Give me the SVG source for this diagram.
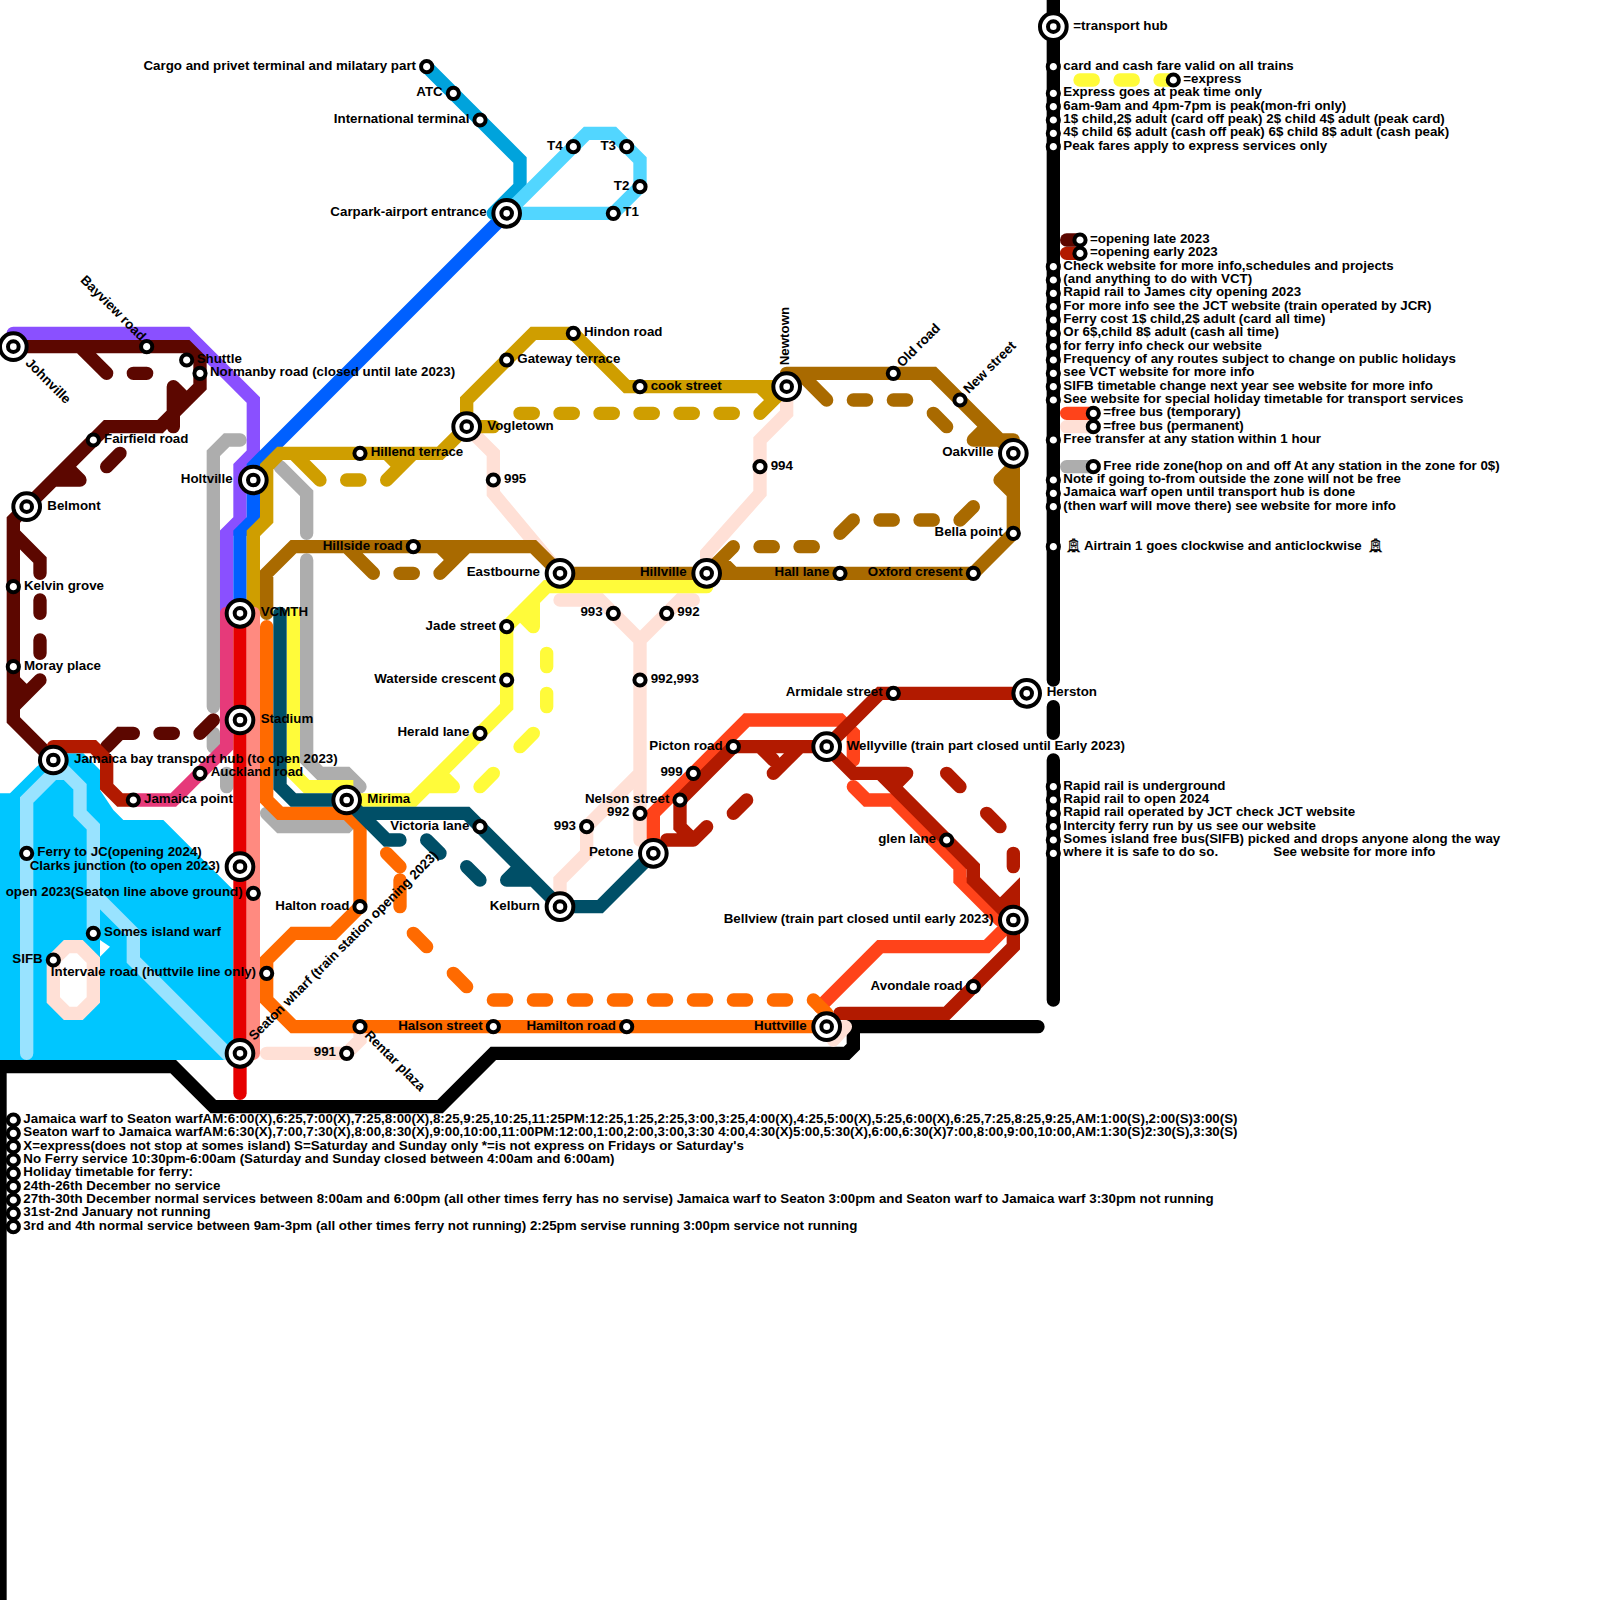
<svg xmlns="http://www.w3.org/2000/svg" width="1600" height="1600" viewBox="0 0 1600 1600">
<style>
text{font-family:"Liberation Sans",Arial,sans-serif;font-size:1px;font-weight:bold;fill:#000}
.tram{font-family:"DejaVu Sans",sans-serif;font-weight:normal;stroke:#000;stroke-width:.02px}
.e{text-anchor:end}
path.l{fill:none;stroke-width:1;stroke-linecap:round;stroke-linejoin:miter}
.ring{fill:#fff;stroke:#000;stroke-width:.3}
.grey{stroke:#adadad}.purple{stroke:#8a50ff}.blue{stroke:#0060ff}.gold{stroke:#cf9e00}.brown{stroke:#a96a00}
.dark{stroke:#5c0700}.dred{stroke:#b21a00}.bus{stroke:#ff431a}.peach{stroke:#ffe0d6}.teal{stroke:#004f67}
.yellow{stroke:#fffb3a}.orange{stroke:#ff6a00}.red{stroke:#e60000}.salmon{stroke:#ff8a80}.pink{stroke:#e63a7a}
.black{stroke:#000}.ferry{stroke:#99e3ff}.air{stroke:#00a3dc}.cyan{stroke:#52d6ff}
</style>
<defs>
<g id="h"><circle class="ring" r="1"/><circle class="ring" r=".4"/></g>
<circle id="s" class="ring" r=".42"/>
</defs>
<g transform="scale(13.33333)">
<g id="water">
<path fill="#00c6ff" d="M0,59.5H.75L2.75,57.5L4,56.5H6.25L7.5,57.75V59.25L8.5,60.75L9.25,61.5H12.25L17.5,66.75V79.5H0Z"/>
<path class="l ferry" d="M2,79V60L4,58H5L6,59V61L7,62V70M4,57L6,59M7,67L10,70V72L17,79H18"/>
<path class="l peach" style="fill:#fff" d="M4,72L5,71H6L7,72V75L6,76H5L4,75Z"/>
<path fill="#fff" d="M7.5,70.5L8.25,71L7.5,71.75Z"/>
</g>
<g id="connectors">
<path class="l black" d="M79,0V51M79,53V55M79,57V75M77.85,77H64V78.5L63.5,79H37L33,83H16L13,80H0V120"/>
<path class="l peach" d="M35,32L37,34V37L42,43M59,29V31L57,33V37L53,41.5V43M42,45H45L48,48V63M52,45H51L48,48M48,58L44,62V64L42,66V68M20,79H26L27,78V77M63.4,77L62.5,78"/>
<path class="l grey" d="M18,33H17L16,34V53M16,55V56M17,58V59M21,35L23,37V40M23,42V57L24,58H26L27,59M20,61L21,62H26L27,61"/>
<path class="l purple" d="M1,25H14L19,30V34L18,35V39L17,40V46"/>
<path class="l blue" d="M38,16L19,35V39L18,40V46"/>
<path class="l air" d="M32,5L39,12V14L37,16"/>
<path class="l cyan" d="M38,16L44,10H46L48,12V14L46,16H38"/>
<path class="l dark" d="M1,26H14L15,27V29L12,32H8L2,38L1,39V54L4,57M6,26L8,28M10,28H11M13,29V32M14,30L13,29M9,34L8,35M5,35L6,36M6,36H4M1,40L3,42V43M3,45V46M3,48V49M3,51L1,53M1,51L2,52M8,56L9,55H10M12,55H13M15,55L16,54"/>
<path class="l gold" d="M19,46V40L20,39V35L21,34H33L35,32V30L40,25H43L47,29H59M35,32H37M39,31H40M42,31H43M45,31H46M48,31H49M51,31H52M54,31H55M57,31L59,29M57,29L58,30M22,34L24,36M26,36H27M29,36L31,34M29,34L30,35"/>
<path class="l brown" d="M20,46V43L22,41H40L42,43H73L76,40V34L70,28H59M26,41L28,43M30,43H31M33,43L35,41M33,41L34,42M60,28L62,30M64,30H65M67,30H68M70,31L71,32M74,32L73,33M73,33H76M76,35L75,36M75,36L76,37M73,38L72,39M69,39H70M66,39H67M64,39L63,40M60,41H61M57,41H58M55,41L53,43M54,42L55,43"/>
<path class="l yellow" d="M53,44H41L38,47V53L31,60H26M40,45V47M39,46L40,47M41,49V50M41,52V53M40,55L39,56M37,58L36,59M33,58L34,59M34,59H32M22,46V58L23,59H26L26,60M81,6H82M84,6H85M87,6H88"/>
<path class="l orange" d="M20,47V60L21,61H26L27,62V68L25,70H22L20,72V75L22,77H62"/>
<path class="l teal" d="M21,46V59L22,60H26M27,61H35L42,68H45L49,64M26,60L29,63H30M32,63L33,64M35,65L36,66M39,65L38,66M38,66H40"/>
<path class="l pink" d="M17,46V56L13,60H10"/>
<path class="l red" d="M18,46V82"/>
<path class="l salmon" d="M19,46V79"/>
<path class="l bus" d="M61.5,75.5L66,71H74L76,69M64,59L65,60H67L72,65V66L75,69M49,63V61L56,54H63L64,55V57M80,31H82"/>
<path class="l dred" d="M77,52H66L62,56H55L51,60V62L52,63M52,63H50M53,62L52,63M56,60L55,61M58,58L60,56M57,56L58,57M62,56L64,58H68M68,58L67,59M66,58L73,65V66L76,69M75,68L76,67V71L71,76H63M71,58L72,59M74,61L75,62M76,64V65M4,56H7L8,57V59L9,60H10M80,19H81"/>
<path class="l dark" d="M80,18H81"/>
<path class="l peach" d="M80,32H82"/>
<path class="l grey" d="M80,35H82"/>
<path class="l orange" d="M29,64L30,65M30,66V68M31,70L32,71M34,73L35,74M37,75H38M40,75H41M43,75H44M46,75H47M49,75H50M52,75H53M55,75H56M58,75H59M61,75L62,76"/>
</g>
<g id="n-johnville" transform="translate(1,26)"><use href="#h"/><text transform="rotate(45)" x="1.5" y=".3">Johnville</text></g>
<g id="n-bayview" transform="translate(11,26)"><use href="#s"/><text class="e" transform="rotate(45)" x="-.6" y=".05">Bayview road</text></g>
<g id="n-shuttle" transform="translate(14,27)"><use href="#s"/><text x=".75" y=".22">Shuttle</text></g>
<g id="n-normanby" transform="translate(15,28)"><use href="#s"/><text x=".75" y=".22">Normanby road (closed until late 2023)</text></g>
<g id="n-fairfield" transform="translate(7,33)"><use href="#s"/><text x=".8" y=".22">Fairfield road</text></g>
<g id="n-belmont" transform="translate(2,38)"><use href="#h"/><text x="1.55" y=".22">Belmont</text></g>
<g id="n-kelvin" transform="translate(1,44)"><use href="#s"/><text x=".8" y=".22">Kelvin grove</text></g>
<g id="n-moray" transform="translate(1,50)"><use href="#s"/><text x=".8" y=".22">Moray place</text></g>
<g id="n-holtville" transform="translate(19,36)"><use href="#h"/><text class="e" x="-1.55" y=".22">Holtville</text></g>
<g id="n-vcmth" transform="translate(18,46)"><use href="#h"/><text x="1.55" y=".22">VCMTH</text></g>
<g id="n-stadium" transform="translate(18,54)"><use href="#h"/><text x="1.55" y=".22">Stadium</text></g>
<g id="n-jamaicabay" transform="translate(4,57)"><use href="#h"/><text x="1.55" y=".22">Jamaica bay transport hub (to open 2023)</text></g>
<g id="n-auckland" transform="translate(15,58)"><use href="#s"/><text x=".8" y=".22">Auckland road</text></g>
<g id="n-jamaicapoint" transform="translate(10,60)"><use href="#s"/><text x=".8" y=".22">Jamaica point</text></g>
<g id="n-mirima" transform="translate(26,60)"><use href="#h"/><text x="1.55" y=".22">Mirima</text></g>
<g id="n-ferryjc" transform="translate(2,64)"><use href="#s"/><text x=".8" y=".22">Ferry to JC(opening 2024)</text></g>
<g id="n-clarks" transform="translate(18,65)"><use href="#h"/><text class="e" x="-1.5" y=".22">Clarks junction (to open 2023)</text></g>
<g id="n-open2023" transform="translate(19,67)"><use href="#s"/><text class="e" x="-.8" y=".22">open 2023(Seaton line above ground)</text></g>
<g id="n-somes" transform="translate(7,70)"><use href="#s"/><text x=".8" y=".22">Somes island warf</text></g>
<g id="n-sifb" transform="translate(4,72)"><use href="#s"/><text class="e" x="-.8" y=".22">SIFB</text></g>
<g id="n-intervale" transform="translate(20,73)"><use href="#s"/><text class="e" x="-.8" y=".22">Intervale road (huttvile line only)</text></g>
<g id="n-seaton" transform="translate(18,79)"><use href="#h"/><text transform="rotate(-45)" x="1.4" y=".1">Seaton wharf (train station opening 2023)</text></g>
<g id="n-rentar" transform="translate(27,77)"><use href="#s"/><text transform="rotate(45)" x=".7" y=".28">Rentar plaza</text></g>
<g id="n-991" transform="translate(26,79)"><use href="#s"/><text class="e" x="-.8" y=".22">991</text></g>
<g id="n-halton" transform="translate(27,68)"><use href="#s"/><text class="e" x="-.8" y=".22">Halton road</text></g>
<g id="n-halson" transform="translate(37,77)"><use href="#s"/><text class="e" x="-.8" y=".22">Halson street</text></g>
<g id="n-hamilton" transform="translate(47,77)"><use href="#s"/><text class="e" x="-.8" y=".22">Hamilton road</text></g>
<g id="n-huttville" transform="translate(62,77)"><use href="#h"/><text class="e" x="-1.5" y=".22">Huttville</text></g>
<g id="n-cargo" transform="translate(32,5)"><use href="#s"/><text class="e" x="-.8" y=".22">Cargo and privet terminal and milatary part</text></g>
<g id="n-atc" transform="translate(34,7)"><use href="#s"/><text class="e" x="-.8" y=".22">ATC</text></g>
<g id="n-intl" transform="translate(36,9)"><use href="#s"/><text class="e" x="-.8" y=".22">International terminal</text></g>
<g id="n-carpark" transform="translate(38,16)"><use href="#h"/><text class="e" x="-1.5" y=".22">Carpark-airport entrance</text></g>
<g id="n-t4" transform="translate(43,11)"><use href="#s"/><text class="e" x="-.8" y=".22">T4</text></g>
<g id="n-t3" transform="translate(47,11)"><use href="#s"/><text class="e" x="-.8" y=".22">T3</text></g>
<g id="n-t2" transform="translate(48,14)"><use href="#s"/><text class="e" x="-.8" y=".22">T2</text></g>
<g id="n-t1" transform="translate(46,16)"><use href="#s"/><text x=".75" y=".22">T1</text></g>
<g id="n-hillend" transform="translate(27,34)"><use href="#s"/><text x=".8" y=".22">Hillend terrace</text></g>
<g id="n-vogletown" transform="translate(35,32)"><use href="#h"/><text x="1.55" y=".22">Vogletown</text></g>
<g id="n-gateway" transform="translate(38,27)"><use href="#s"/><text x=".8" y=".22">Gateway terrace</text></g>
<g id="n-hindon" transform="translate(43,25)"><use href="#s"/><text x=".8" y=".22">Hindon road</text></g>
<g id="n-cook" transform="translate(48,29)"><use href="#s"/><text x=".8" y=".22">cook street</text></g>
<g id="n-newtown" transform="translate(59,29)"><use href="#h"/><text transform="rotate(-90)" x="1.6" y=".15">Newtown</text></g>
<g id="n-oldroad" transform="translate(67,28)"><use href="#s"/><text transform="rotate(-45)" x=".77" y=".17">Old road</text></g>
<g id="n-newstreet" transform="translate(72,30)"><use href="#s"/><text transform="rotate(-45)" x=".77" y=".17">New street</text></g>
<g id="n-oakville" transform="translate(76,34)"><use href="#h"/><text class="e" x="-1.5" y=".22">Oakville</text></g>
<g id="n-bella" transform="translate(76,40)"><use href="#s"/><text class="e" x="-.8" y=".22">Bella point</text></g>
<g id="n-hillside" transform="translate(31,41)"><use href="#s"/><text class="e" x="-.8" y=".22">Hillside road</text></g>
<g id="n-995" transform="translate(37,36)"><use href="#s"/><text x=".8" y=".22">995</text></g>
<g id="n-994" transform="translate(57,35)"><use href="#s"/><text x=".8" y=".22">994</text></g>
<g id="n-eastbourne" transform="translate(42,43)"><use href="#h"/><text class="e" x="-1.5" y=".22">Eastbourne</text></g>
<g id="n-hillville" transform="translate(53,43)"><use href="#h"/><text class="e" x="-1.5" y=".22">Hillville</text></g>
<g id="n-hall" transform="translate(63,43)"><use href="#s"/><text class="e" x="-.8" y=".22">Hall lane</text></g>
<g id="n-oxford" transform="translate(73,43)"><use href="#s"/><text class="e" x="-.8" y=".22">Oxford cresent</text></g>
<g id="n-993a" transform="translate(46,46)"><use href="#s"/><text class="e" x="-.8" y=".22">993</text></g>
<g id="n-992a" transform="translate(50,46)"><use href="#s"/><text x=".8" y=".22">992</text></g>
<g id="n-992993" transform="translate(48,51)"><use href="#s"/><text x=".8" y=".22">992,993</text></g>
<g id="n-jade" transform="translate(38,47)"><use href="#s"/><text class="e" x="-.8" y=".22">Jade street</text></g>
<g id="n-waterside" transform="translate(38,51)"><use href="#s"/><text class="e" x="-.8" y=".22">Waterside crescent</text></g>
<g id="n-herald" transform="translate(36,55)"><use href="#s"/><text class="e" x="-.8" y=".22">Herald lane</text></g>
<g id="n-victoria" transform="translate(36,62)"><use href="#s"/><text class="e" x="-.8" y=".22">Victoria lane</text></g>
<g id="n-kelburn" transform="translate(42,68)"><use href="#h"/><text class="e" x="-1.5" y=".22">Kelburn</text></g>
<g id="n-petone" transform="translate(49,64)"><use href="#h"/><text class="e" x="-1.5" y=".22">Petone</text></g>
<g id="n-nelson" transform="translate(51,60)"><use href="#s"/><text class="e" x="-.8" y=".22">Nelson street</text></g>
<g id="n-992b" transform="translate(48,61)"><use href="#s"/><text class="e" x="-.8" y=".22">992</text></g>
<g id="n-993b" transform="translate(44,62)"><use href="#s"/><text class="e" x="-.8" y=".22">993</text></g>
<g id="n-999" transform="translate(52,58)"><use href="#s"/><text class="e" x="-.8" y=".22">999</text></g>
<g id="n-picton" transform="translate(55,56)"><use href="#s"/><text class="e" x="-.8" y=".22">Picton road</text></g>
<g id="n-armidale" transform="translate(67,52)"><use href="#s"/><text class="e" x="-.8" y=".22">Armidale street</text></g>
<g id="n-herston" transform="translate(77,52)"><use href="#h"/><text x="1.5" y=".22">Herston</text></g>
<g id="n-wellyville" transform="translate(62,56)"><use href="#h"/><text x="1.5" y=".22">Wellyville (train part closed until Early 2023)</text></g>
<g id="n-glen" transform="translate(71,63)"><use href="#s"/><text class="e" x="-.8" y=".22">glen lane</text></g>
<g id="n-bellview" transform="translate(76,69)"><use href="#h"/><text class="e" x="-1.5" y=".22">Bellview (train part closed until early 2023)</text></g>
<g id="n-avondale" transform="translate(73,74)"><use href="#s"/><text class="e" x="-.8" y=".22">Avondale road</text></g>
<g id="legend">
<g transform="translate(79,2)"><use href="#h"/><text x="1.5" y=".22">=transport hub</text></g>
<g transform="translate(79,5)"><use href="#s"/><text x=".75" y=".22">card and cash fare valid on all trains</text></g>
<g transform="translate(88,6)"><use href="#s"/><text x=".75" y=".22">=express</text></g>
<g transform="translate(79,7)"><use href="#s"/><text x=".75" y=".22">Express goes at peak time only</text></g>
<g transform="translate(79,8)"><use href="#s"/><text x=".75" y=".22">6am-9am and 4pm-7pm is peak(mon-fri only)</text></g>
<g transform="translate(79,9)"><use href="#s"/><text x=".75" y=".22">1$ child,2$ adult (card off peak) 2$ child 4$ adult (peak card)</text></g>
<g transform="translate(79,10)"><use href="#s"/><text x=".75" y=".22">4$ child 6$ adult (cash off peak) 6$ child 8$ adult (cash peak)</text></g>
<g transform="translate(79,11)"><use href="#s"/><text x=".75" y=".22">Peak fares apply to express services only</text></g>
<g transform="translate(81,18)"><use href="#s"/><text x=".75" y=".22">=opening late 2023</text></g>
<g transform="translate(81,19)"><use href="#s"/><text x=".75" y=".22">=opening early 2023</text></g>
<g transform="translate(79,20)"><use href="#s"/><text x=".75" y=".22">Check website for more info,schedules and projects</text></g>
<g transform="translate(79,21)"><use href="#s"/><text x=".75" y=".22">(and anything to do with VCT)</text></g>
<g transform="translate(79,22)"><use href="#s"/><text x=".75" y=".22">Rapid rail to James city opening 2023</text></g>
<g transform="translate(79,23)"><use href="#s"/><text x=".75" y=".22">For more info see the JCT website (train operated by JCR)</text></g>
<g transform="translate(79,24)"><use href="#s"/><text x=".75" y=".22">Ferry cost 1$ child,2$ adult (card all time)</text></g>
<g transform="translate(79,25)"><use href="#s"/><text x=".75" y=".22">Or 6$,child 8$ adult (cash all time)</text></g>
<g transform="translate(79,26)"><use href="#s"/><text x=".75" y=".22">for ferry info check our website</text></g>
<g transform="translate(79,27)"><use href="#s"/><text x=".75" y=".22">Frequency of any routes subject to change on public holidays</text></g>
<g transform="translate(79,28)"><use href="#s"/><text x=".75" y=".22">see VCT website for more info</text></g>
<g transform="translate(79,29)"><use href="#s"/><text x=".75" y=".22">SIFB timetable change next year see website for more info</text></g>
<g transform="translate(79,30)"><use href="#s"/><text x=".75" y=".22">See website for special holiday timetable for transport services</text></g>
<g transform="translate(82,31)"><use href="#s"/><text x=".75" y=".22">=free bus (temporary)</text></g>
<g transform="translate(82,32)"><use href="#s"/><text x=".75" y=".22">=free bus (permanent)</text></g>
<g transform="translate(79,33)"><use href="#s"/><text x=".75" y=".22">Free transfer at any station within 1 hour</text></g>
<g transform="translate(82,35)"><use href="#s"/><text x=".75" y=".22">Free ride zone(hop on and off At any station in the zone for 0$)</text></g>
<g transform="translate(79,36)"><use href="#s"/><text x=".75" y=".22">Note if going to-from outside the zone will not be free</text></g>
<g transform="translate(79,37)"><use href="#s"/><text x=".75" y=".22">Jamaica warf open until transport hub is done</text></g>
<g transform="translate(79,38)"><use href="#s"/><text x=".75" y=".22">(then warf will move there) see website for more info</text></g>
<g transform="translate(79,41)"><use href="#s"/><text y=".22"><tspan class="tram" x=".85">🚊︎</tspan><tspan x="2.3">Airtrain 1 goes clockwise and anticlockwise</tspan><tspan class="tram" x="23.5">🚊︎</tspan></text></g>
<g transform="translate(79,59)"><use href="#s"/><text x=".75" y=".22">Rapid rail is underground</text></g>
<g transform="translate(79,60)"><use href="#s"/><text x=".75" y=".22">Rapid rail to open 2024</text></g>
<g transform="translate(79,61)"><use href="#s"/><text x=".75" y=".22">Rapid rail operated by JCT check JCT website</text></g>
<g transform="translate(79,62)"><use href="#s"/><text x=".75" y=".22">Intercity ferry run by us see our website</text></g>
<g transform="translate(79,63)"><use href="#s"/><text x=".75" y=".22">Somes island free bus(SIFB) picked and drops anyone along the way</text></g>
<g transform="translate(79,64)"><use href="#s"/><text x=".75" y=".22">where it is safe to do so.<tspan x="16.5">See website for more info</tspan></text></g>
</g>
<g id="ferry-timetable">
<g transform="translate(1,84)"><use href="#s"/><text x=".75" y=".22">Jamaica warf to Seaton warfAM:6:00(X),6:25,7:00(X),7:25,8:00(X),8:25,9:25,10:25,11:25PM:12:25,1:25,2:25,3:00,3:25,4:00(X),4:25,5:00(X),5:25,6:00(X),6:25,7:25,8:25,9:25,AM:1:00(S),2:00(S)3:00(S)</text></g>
<g transform="translate(1,85)"><use href="#s"/><text x=".75" y=".22">Seaton warf to Jamaica warfAM:6:30(X),7:00,7:30(X),8:00,8:30(X),9:00,10:00,11:00PM:12:00,1:00,2:00,3:00,3:30 4:00,4:30(X)5:00,5:30(X),6:00,6:30(X)7:00,8:00,9:00,10:00,AM:1:30(S)2:30(S),3:30(S)</text></g>
<g transform="translate(1,86)"><use href="#s"/><text x=".75" y=".22">X=express(does not stop at somes island) S=Saturday and Sunday only *=is not express on Fridays or Saturday's</text></g>
<g transform="translate(1,87)"><use href="#s"/><text x=".75" y=".22">No Ferry service 10:30pm-6:00am (Saturday and Sunday closed between 4:00am and 6:00am)</text></g>
<g transform="translate(1,88)"><use href="#s"/><text x=".75" y=".22">Holiday timetable for ferry:</text></g>
<g transform="translate(1,89)"><use href="#s"/><text x=".75" y=".22">24th-26th December no service</text></g>
<g transform="translate(1,90)"><use href="#s"/><text x=".75" y=".22">27th-30th December normal services between 8:00am and 6:00pm (all other times ferry has no servise) Jamaica warf to Seaton 3:00pm and Seaton warf to Jamaica warf 3:30pm not running</text></g>
<g transform="translate(1,91)"><use href="#s"/><text x=".75" y=".22">31st-2nd January not running</text></g>
<g transform="translate(1,92)"><use href="#s"/><text x=".75" y=".22">3rd and 4th normal service between 9am-3pm (all other times ferry not running) 2:25pm servise running 3:00pm service not running</text></g>
</g>
</g>
</svg>
